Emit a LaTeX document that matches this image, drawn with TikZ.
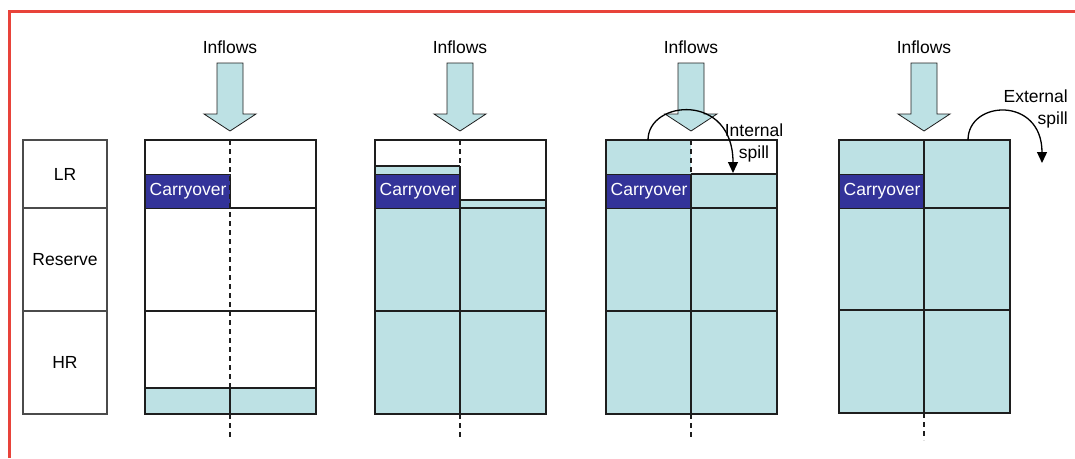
\documentclass[tikz,border=0pt]{standalone}
\usepackage{fontspec}
\setmainfont{Liberation Sans}
\usetikzlibrary{arrows.meta}
\definecolor{flowcyan}{RGB}{189,225,228}
\definecolor{carryblue}{RGB}{51,51,153}
\definecolor{framered}{RGB}{232,67,58}
\definecolor{edgegray}{RGB}{30,30,30}

\begin{document}
\begin{tikzpicture}[x=1pt, y=-1pt,
        every node/.style={font=\fontsize{17.5}{22}\selectfont},
        cell/.style={draw=edgegray, line width=1.2pt},
        zone/.style={draw=edgegray!80, line width=1.2pt, minimum width=84pt, inner sep=0pt},
        carry_box/.style={draw=edgegray, line width=1.2pt, fill=carryblue, text=white,
            minimum width=85pt, minimum height=34pt, inner sep=0pt, anchor=north west},
        inflow/.style={fill=flowcyan, draw=edgegray, line width=0.8pt},
        axis_line/.style={draw=edgegray, line width=1.2pt, dash pattern=on 5pt off 4pt},
        spill_arrow/.style={line width=1.3pt, -{Triangle[width=10pt,length=11pt]}}
    ]
    \useasboundingbox (0,0) rectangle (1075,458);

    % --- Frame ---
    \draw[framered, line width=3pt] (9,458) -- (9,11) -- (1075,11);

    % --- Zone column ---
    \node[zone, minimum height=68pt] (lr) at (65,174) {LR};
    \node[zone, minimum height=103pt] (res) at (65,259.5) {Reserve};
    \node[zone, minimum height=103pt] (hr) at (65,362.5) {HR};

    % --- PANEL 1: start ---
    \begin{scope}[shift={(145,0)}]
        \node (in1) at (85,47) {Inflows};
        \draw[inflow] (72,63) -- (98,63) -- (98,114) -- (111,114) -- (85,131) -- (59,114) -- (72,114) -- cycle;

        \fill[flowcyan] (0,388) rectangle (171,414);
        \draw[cell] (0,140) rectangle (171,414);
        \draw[cell] (0,208) -- (171,208) (0,311) -- (171,311) (0,388) -- (171,388);
        \node[carry_box] (c1) at (0,174) {Carryover};

        \coordinate (m1a) at (85,140);
        \coordinate (m1b) at (85,388);
        \coordinate (m1c) at (85,414);
        \coordinate (m1d) at (85,440);
        \draw[axis_line] (m1a) -- (m1b);
        \draw[cell] (m1b) -- (m1c);
        \draw[axis_line] (m1c) -- (m1d);
    \end{scope}

    % --- PANEL 2: filling ---
    \begin{scope}[shift={(375,0)}]
        \node (in2) at (85,47) {Inflows};
        \draw[inflow] (72,63) -- (98,63) -- (98,114) -- (111,114) -- (85,131) -- (59,114) -- (72,114) -- cycle;

        \fill[flowcyan] (0,166) rectangle (85,414) (85,200) rectangle (171,414);
        \draw[cell] (0,140) rectangle (171,414);
        \draw[cell] (0,166) -- (85,166) (85,200) -- (171,200) (85,208) -- (171,208) (0,311) -- (171,311);
        \node[carry_box] (c2) at (0,174) {Carryover};

        \coordinate (m2a) at (85,140);
        \coordinate (m2b) at (85,166);
        \coordinate (m2c) at (85,414);
        \coordinate (m2d) at (85,440);
        \draw[axis_line] (m2a) -- (m2b);
        \draw[cell] (m2b) -- (m2c);
        \draw[axis_line] (m2c) -- (m2d);
    \end{scope}

    % --- PANEL 3: internal spill ---
    \begin{scope}[shift={(606,0)}]
        \node (in3) at (85,47) {Inflows};
        \draw[inflow] (72,63) -- (98,63) -- (98,114) -- (111,114) -- (85,131) -- (59,114) -- (72,114) -- cycle;

        \fill[flowcyan] (0,140) rectangle (85,414) (85,174) rectangle (171,414);
        \draw[cell] (0,140) rectangle (171,414);
        \draw[cell] (85,174) -- (171,174) (85,208) -- (171,208) (0,311) -- (171,311);
        \node[carry_box] (c3) at (0,174) {Carryover};

        \coordinate (m3a) at (85,140);
        \coordinate (m3b) at (85,174);
        \coordinate (m3c) at (85,414);
        \coordinate (m3d) at (85,440);
        \draw[axis_line] (m3a) -- (m3b);
        \draw[cell] (m3b) -- (m3c);
        \draw[axis_line] (m3c) -- (m3d);

        % Spill into the other half
        \coordinate (s3a) at (42,140);
        \coordinate (s3b) at (127,173);
        \draw[spill_arrow] (s3a) .. controls (42,100) and (127,92) .. (s3b);
        \node[align=center, inner sep=0pt] (t3) at (148,143) {Internal\\spill};
    \end{scope}

    % --- PANEL 4: external spill ---
    \begin{scope}[shift={(839,0)}]
        \node (in4) at (85,47) {Inflows};
        \draw[inflow] (72,63) -- (98,63) -- (98,114) -- (111,114) -- (85,131) -- (59,114) -- (72,114) -- cycle;

        \fill[flowcyan] (0,140) rectangle (171,413);
        \draw[cell] (0,140) rectangle (171,413);
        \draw[cell] (0,208) -- (171,208) (0,310) -- (171,310);
        \node[carry_box] (c4) at (0,174) {Carryover};

        \coordinate (m4a) at (85,140);
        \coordinate (m4c) at (85,413);
        \coordinate (m4d) at (85,440);
        \draw[cell] (m4a) -- (m4c);
        \draw[axis_line] (m4c) -- (m4d);

        % Spill out of the reservoir
        \coordinate (s4a) at (129,140);
        \coordinate (s4b) at (203,163);
        \draw[spill_arrow] (s4a) .. controls (129,100) and (203,96) .. (s4b);
        \node[align=right, inner sep=0pt, anchor=east] (t4) at (229,109) {External\\spill};
    \end{scope}

\end{tikzpicture}
\end{document}
